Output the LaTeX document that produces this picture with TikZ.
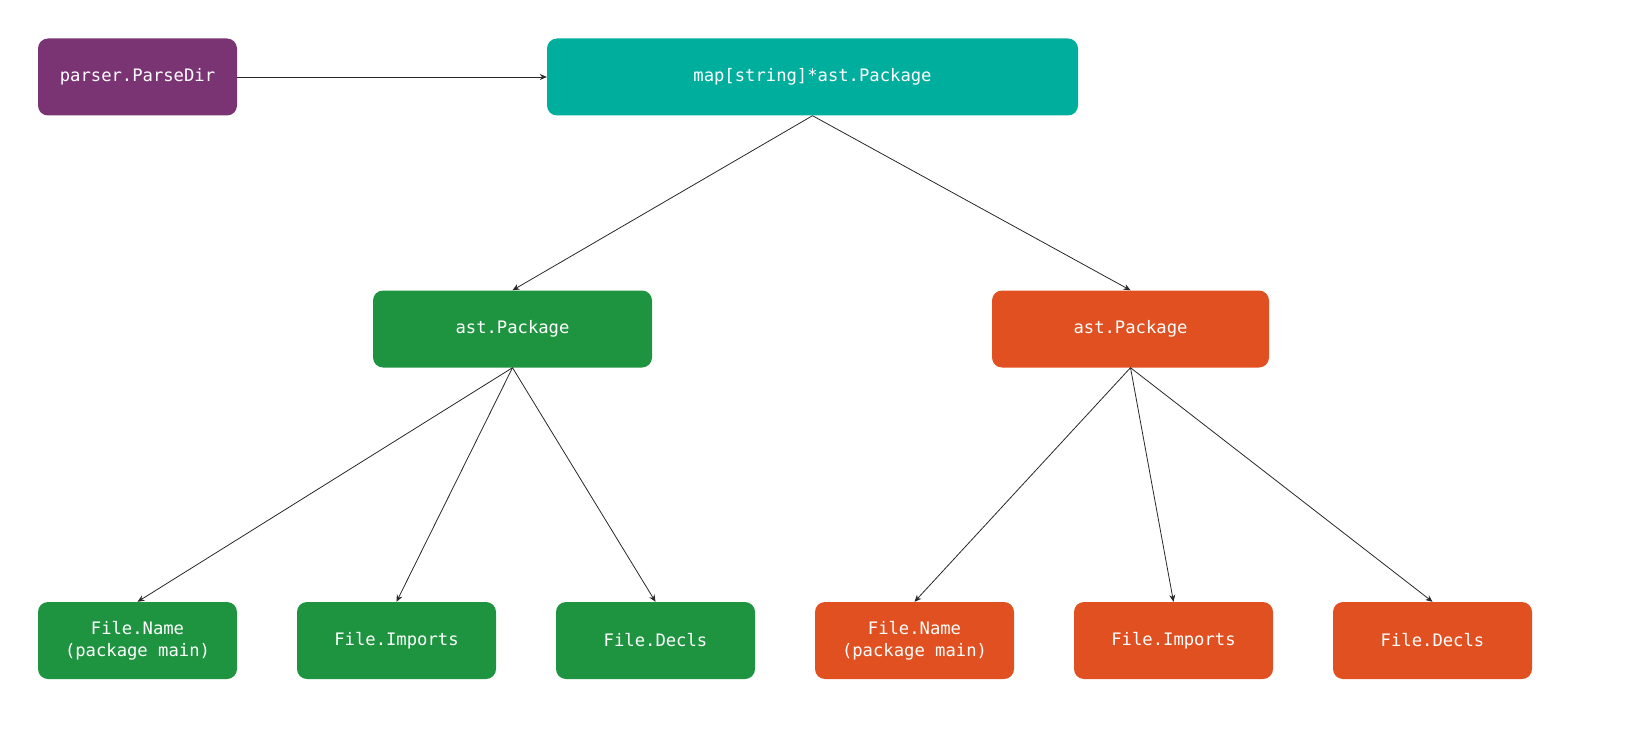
\documentclass[tikz,border=0pt]{standalone}
\usepackage{fontspec}
\setmonofont{DejaVu Sans Mono}
\usetikzlibrary{arrows.meta}
\definecolor{cpurple}{RGB}{122,51,115}
\definecolor{cteal}{RGB}{0,174,158}
\definecolor{cgreen}{RGB}{30,148,64}
\definecolor{corange}{RGB}{225,80,32}
\definecolor{cline}{RGB}{40,40,40}
\begin{document}
\begin{tikzpicture}[x=1pt,y=-1pt,
  box/.style={rounded corners=10pt, minimum height=77pt, text=white,
    font=\ttfamily\fontsize{17.2}{22}\selectfont, align=center, inner sep=0pt},
  smallbox/.style={box, minimum width=199pt},
  conn/.style={draw=cline, line width=0.8pt, -{Stealth[length=7pt,width=6pt]}}]
\useasboundingbox (0,0) rectangle (1635,746);
\node[smallbox, fill=cpurple] (parser) at (137.5,77) {parser.ParseDir};
\node[box, fill=cteal, minimum width=531pt] (map) at (812.5,77) {map[string]*ast.Package};
\node[box, fill=cgreen, minimum width=279pt] (gp) at (512.5,329) {ast.Package};
\node[box, fill=corange, minimum width=277pt] (op) at (1130.5,329) {ast.Package};
\node[smallbox, fill=cgreen] (g1) at (137.5,640.5) {File.Name\\(package main)};
\node[smallbox, fill=cgreen] (g2) at (396.5,640.5) {File.Imports};
\node[smallbox, fill=cgreen] (g3) at (655.5,640.5) {File.Decls};
\node[smallbox, fill=corange] (o1) at (914.5,640.5) {File.Name\\(package main)};
\node[smallbox, fill=corange] (o2) at (1173.5,640.5) {File.Imports};
\node[smallbox, fill=corange] (o3) at (1432.5,640.5) {File.Decls};
\draw[conn] (parser.east) -- (map.west);
\draw[conn] (map.south) -- (gp.north);
\draw[conn] (map.south) -- (op.north);
\draw[conn] (gp.south) -- (g1.north);
\draw[conn] (gp.south) -- (g2.north);
\draw[conn] (gp.south) -- (g3.north);
\draw[conn] (op.south) -- (o1.north);
\draw[conn] (op.south) -- (o2.north);
\draw[conn] (op.south) -- (o3.north);
\end{tikzpicture}
\end{document}
